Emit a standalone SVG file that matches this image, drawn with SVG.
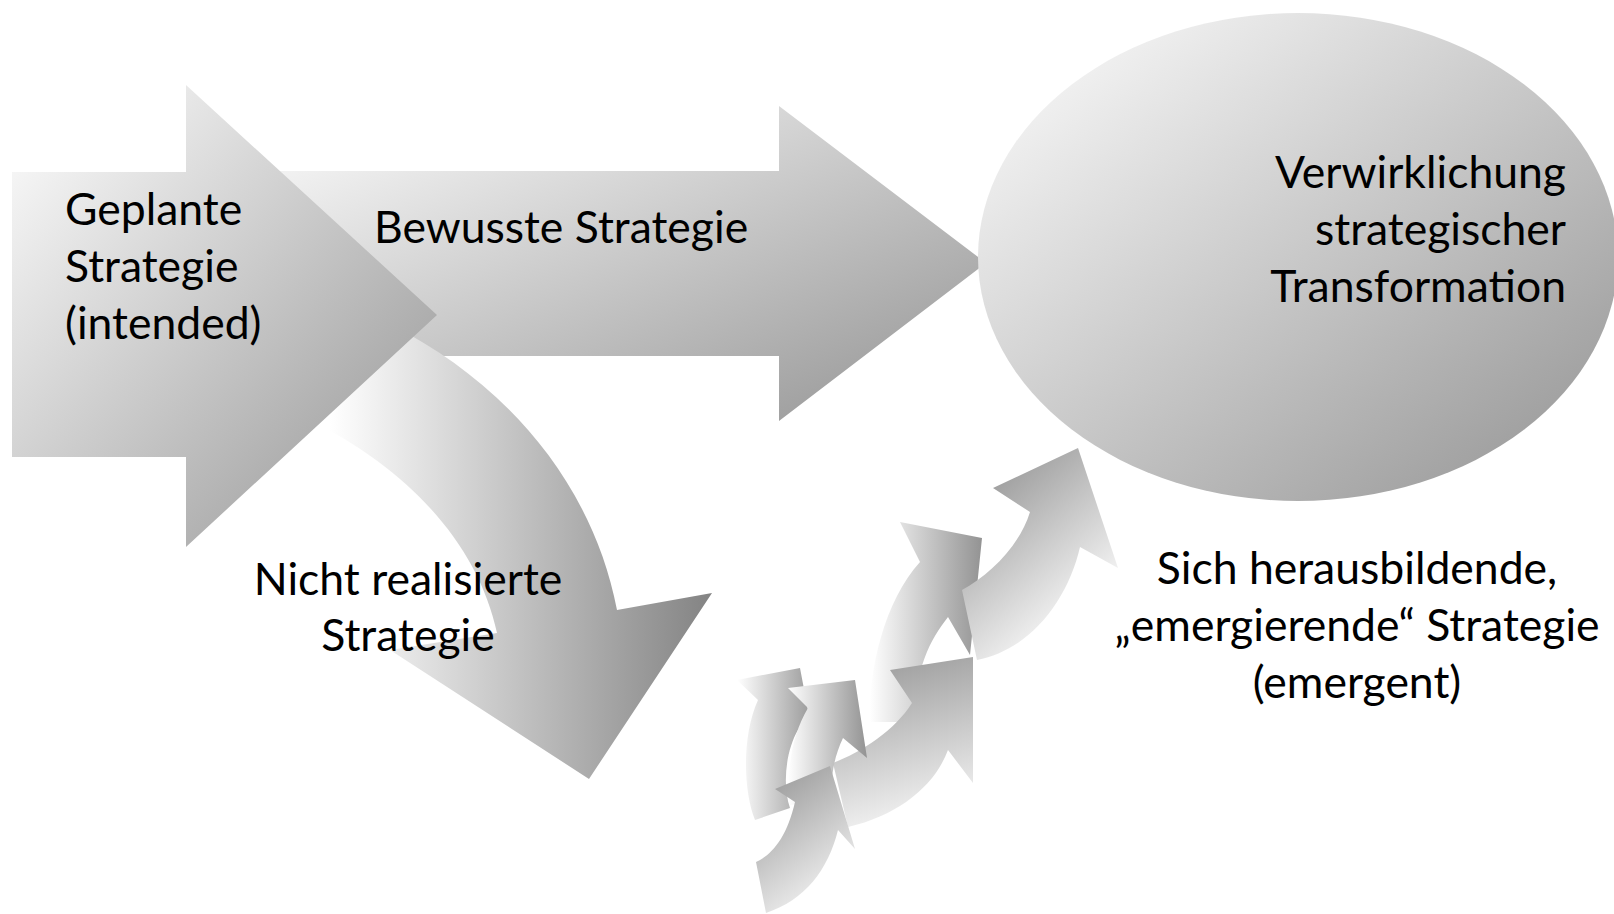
<svg xmlns="http://www.w3.org/2000/svg" width="1614" height="914" viewBox="0 0 1614 914">
  <style>
    .lbl { font-family: "Lato", "Open Sans", sans-serif; font-size: 44.5px; fill: #000; }
    .mid { text-anchor: middle; }
    .end { text-anchor: end; }
  </style>
  <defs>
    <linearGradient id="gDiag" x1="0" y1="0" x2="1" y2="1">
      <stop offset="0" stop-color="#ffffff"/>
      <stop offset="1" stop-color="#929292"/>
    </linearGradient>
    <linearGradient id="gCurve" gradientUnits="userSpaceOnUse" x1="330" y1="0" x2="712" y2="0">
      <stop offset="0" stop-color="#ffffff"/>
      <stop offset="1" stop-color="#838383"/>
    </linearGradient>
    <linearGradient id="gE1" gradientUnits="userSpaceOnUse" x1="990" y1="470" x2="1110" y2="610">
      <stop offset="0" stop-color="#999999"/>
      <stop offset="1" stop-color="#ffffff"/>
    </linearGradient>
    <linearGradient id="gE2" gradientUnits="userSpaceOnUse" x1="870" y1="0" x2="982" y2="0">
      <stop offset="0" stop-color="#ffffff"/>
      <stop offset="1" stop-color="#939393"/>
    </linearGradient>
    <linearGradient id="gE3" gradientUnits="userSpaceOnUse" x1="885" y1="650" x2="935" y2="830">
      <stop offset="0" stop-color="#999999"/>
      <stop offset="1" stop-color="#fafafa"/>
    </linearGradient>
    <linearGradient id="gE4" gradientUnits="userSpaceOnUse" x1="775" y1="775" x2="860" y2="890">
      <stop offset="0" stop-color="#9c9c9c"/>
      <stop offset="1" stop-color="#fafafa"/>
    </linearGradient>
    <linearGradient id="gE5" gradientUnits="userSpaceOnUse" x1="737" y1="0" x2="812" y2="0">
      <stop offset="0" stop-color="#ffffff"/>
      <stop offset="1" stop-color="#999999"/>
    </linearGradient>
    <linearGradient id="gE6" gradientUnits="userSpaceOnUse" x1="788" y1="0" x2="867" y2="0">
      <stop offset="0" stop-color="#ffffff"/>
      <stop offset="1" stop-color="#939393"/>
    </linearGradient>
  </defs>

  <rect width="1614" height="914" fill="#ffffff"/>

  <g id="connectors">
    <g id="arrow-bewusst">
      <polygon points="250,171 779,171 779,106 986,263 779,421 779,356 250,356" fill="url(#gDiag)"/>
    </g>
    <g id="arrow-nicht-realisiert">
      <path d="M 395,327 C 490,375 590,470 617,610 L 712,593 L 589,779 L 390,650 L 497,633 C 478,545 410,470 310,420 Z" fill="url(#gCurve)"/>
    </g>
    <g id="arrows-emergent">
      <path id="e5" d="M 758,700 L 737,680 L 800,668 L 814,742 L 798,730 C 786,750 782,785 790,808 L 755,820 C 743,790 742,735 758,700 Z" fill="url(#gE5)"/>
      <path id="e2" d="M 920,562 L 900,522 L 982,538 L 970,655 L 948,617 C 930,640 914,670 915,722 L 870,722 C 868,670 885,600 920,562 Z" fill="url(#gE2)"/>
      <path id="e3" d="M 912,703 L 890,670 L 973,657 L 973,783 L 948,750 C 935,785 900,815 848,827 L 833,763 C 862,752 895,730 912,703 Z" fill="url(#gE3)"/>
      <path id="e6" d="M 808,708 L 788,688 L 855,680 L 867,758 L 843,738 C 835,755 830,775 832,800 L 790,805 C 786,770 792,735 808,708 Z" fill="url(#gE6)"/>
      <path id="e4" d="M 795,802 L 775,789 L 830,766 L 855,849 L 838,830 C 828,870 805,900 766,913 L 756,862 C 772,855 787,837 795,802 Z" fill="url(#gE4)"/>
      <path id="e1" d="M 1030,512 L 993,488 L 1078,448 L 1118,568 L 1080,547 C 1068,600 1030,650 977,660 L 962,590 C 990,575 1020,545 1030,512 Z" fill="url(#gE1)"/>
    </g>
  </g>

  <g id="node-geplant">
    <polygon points="12,172 186,172 186,85 437,315 186,547 186,457 12,457" fill="url(#gDiag)"/>
    <text class="lbl" x="65" y="225">Geplante</text>
    <text class="lbl" x="65" y="282">Strategie</text>
    <text class="lbl" x="65" y="339">(intended)</text>
  </g>

  <g id="label-bewusst">
    <text class="lbl" x="374" y="243">Bewusste Strategie</text>
  </g>

  <g id="label-nicht">
    <text class="lbl mid" x="408" y="595">Nicht realisierte</text>
    <text class="lbl mid" x="408" y="651">Strategie</text>
  </g>

  <g id="node-ziel">
    <ellipse cx="1298" cy="257" rx="320" ry="244" fill="url(#gDiag)"/>
    <text class="lbl end" x="1566" y="188">Verwirklichung</text>
    <text class="lbl end" x="1566" y="245">strategischer</text>
    <text class="lbl end" x="1566" y="302">Transformation</text>
  </g>

  <g id="label-emergent">
    <text class="lbl mid" x="1357" y="584">Sich herausbildende,</text>
    <text class="lbl mid" x="1357" y="641">„emergierende“ Strategie</text>
    <text class="lbl mid" x="1357" y="698">(emergent)</text>
  </g>
</svg>
